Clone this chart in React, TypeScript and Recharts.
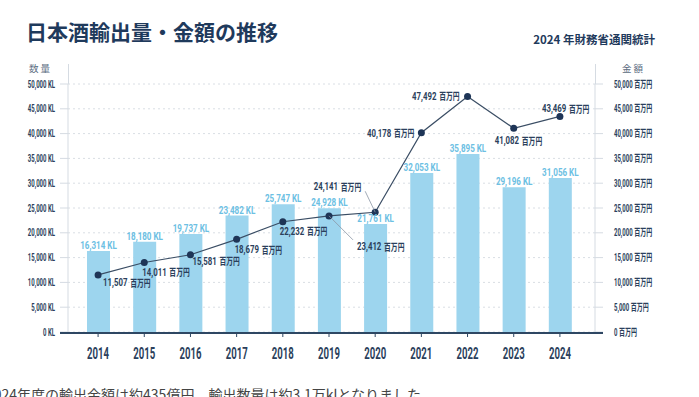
import React from "react";
import { ComposedChart, Bar, Line, XAxis, YAxis, CartesianGrid, LabelList } from "recharts";

const years = ["2014", "2015", "2016", "2017", "2018", "2019", "2020", "2021", "2022", "2023", "2024"];
const volumeKL = [16314, 18180, 19737, 23482, 25747, 24928, 21761, 32053, 35895, 29196, 31056];
const amountMillionYen = [11507, 14011, 15581, 18679, 22232, 23412, 24141, 40178, 47492, 41082, 43469];
const axisTicks = [0, 5000, 10000, 15000, 20000, 25000, 30000, 35000, 40000, 45000, 50000];

// where each amount label sits relative to its point
const amountLabelPos = [
  { dx: 5, dy: 7, anchor: "start" },
  { dx: -2, dy: 9, anchor: "start" },
  { dx: 2, dy: 6, anchor: "start" },
  { dx: -2, dy: 10, anchor: "start" },
  { dx: -3, dy: 9, anchor: "start" },
  { dx: 28, dy: 30, anchor: "start", leader: true },
  { dx: -14, dy: -26, anchor: "end", leader: true },
  { dx: -7, dy: 0, anchor: "end" },
  { dx: -8, dy: -1, anchor: "end" },
  { dx: -19, dy: 12, anchor: "start" },
  { dx: -18, dy: -8, anchor: "start" },
];

const data = years.map((year, i) => ({ year, volume: volumeKL[i], amount: amountMillionYen[i] }));

const NAVY = "#1f3a5c";
const TEXT = "#2b3f5c";
const COND = "Roboto, 'Noto Sans CJK JP', sans-serif";
const JP = "'Noto Sans CJK JP', 'Noto Sans', sans-serif";

const fmt = (v: number) => v.toLocaleString("en-US");

// squeezed text to mimic the condensed face of the original
const CondText = ({ x, y, anchor = "start", sx = 0.62, fontSize = 10, fill = TEXT, children }: any) => (
  <text
    transform={`translate(${x},${y}) scale(${sx},1)`}
    x={0}
    y={0}
    textAnchor={anchor}
    dominantBaseline="central"
    fontFamily={COND}
    fontWeight={700}
    fontSize={fontSize}
    fill={fill}
  >
    {children}
  </text>
);

const AmountLabel = (props: any) => {
  const { x, y, value, index } = props;
  const i = typeof index === "number" ? index : amountMillionYen.indexOf(value);
  const pos = amountLabelPos[i] || { dx: 5, dy: 8, anchor: "start" };
  const tx = x + pos.dx;
  const ty = y + pos.dy;
  return (
    <g>
      {pos.leader && (
        <line
          x1={x}
          y1={y}
          x2={pos.anchor === "end" ? tx + 4 : tx - 4}
          y2={pos.dy > 0 ? ty - 6 : ty + 5}
          stroke="#8a96a5"
          strokeWidth={0.8}
        />
      )}
      <CondText x={tx} y={ty} anchor={pos.anchor} sx={0.68} fontSize={11.5} fill={TEXT}>
        {fmt(value)}
        <tspan fontFamily={JP} fontSize={10} dx={4}>百万円</tspan>
      </CondText>
    </g>
  );
};

export default function App() {
  return (
    <div style={{ position: "absolute", left: 0, top: 0, width: 699, height: 397, background: "#fff", overflow: "hidden" }}>
      <div style={{ position: "absolute", left: 26, top: 16, fontFamily: JP, fontWeight: 700, fontSize: 21, color: NAVY, whiteSpace: "nowrap" }}>
        日本酒輸出量・金額の推移
      </div>
      <div style={{ position: "absolute", right: 44, top: 31, fontFamily: JP, fontWeight: 700, fontSize: 11.5, color: NAVY, whiteSpace: "nowrap" }}>
        2024 年財務省通関統計
      </div>
      <div style={{ position: "absolute", left: 29, top: 61, fontFamily: JP, fontSize: 9.5, color: "#5a6b80", letterSpacing: 2 }}>数量</div>
      <div style={{ position: "absolute", left: 622, top: 61, fontFamily: JP, fontSize: 9.5, color: "#5a6b80", letterSpacing: 2 }}>金額</div>

      {/* axis line extensions */}
      <div style={{ position: "absolute", left: 68, top: 64, width: 1, height: 20, background: "#d5dbe2" }} />
      <div style={{ position: "absolute", left: 595, top: 64, width: 1, height: 20, background: "#d5dbe2" }} />

      <div style={{ position: "absolute", left: 0, top: 0 }}>
        <ComposedChart width={699} height={397} data={data} margin={{ top: 84, right: 0, bottom: 35, left: 0 }}>
          <CartesianGrid yAxisId="kl" vertical={false} stroke="#d9dee4" strokeDasharray="2 3" />
          <XAxis
            dataKey="year"
            padding={{ left: 7, right: 12 }}
            axisLine={false}
            tickLine={{ stroke: "#2e4763" }}
            tickSize={5}
            tickMargin={7}
            height={30}
            tick={(p: any) => (
              <CondText x={p.x} y={p.y + 10} anchor="middle" sx={0.6} fontSize={16} fill={TEXT}>
                {p.payload.value}
              </CondText>
            )}
          />
          <YAxis
            yAxisId="kl"
            orientation="left"
            width={68}
            domain={[0, 50000]}
            ticks={axisTicks}
            interval={0}
            axisLine={{ stroke: "#d5dbe2" }}
            tickLine={{ stroke: "#d5dbe2" }}
            tickSize={8}
            tickMargin={5}
            tick={(p: any) => (
              <CondText x={p.x} y={p.y} anchor="end" sx={0.6} fontSize={10}>
                {`${fmt(p.payload.value)} KL`}
              </CondText>
            )}
          />
          <YAxis
            yAxisId="yen"
            orientation="right"
            width={104}
            domain={[0, 50000]}
            ticks={axisTicks}
            interval={0}
            axisLine={{ stroke: "#d5dbe2" }}
            tickLine={{ stroke: "#d5dbe2" }}
            tickSize={8}
            tickMargin={11}
            tick={(p: any) => (
              <CondText x={p.x} y={p.y} anchor="start" sx={0.6} fontSize={10}>
                {`${fmt(p.payload.value)} 百万円`}
              </CondText>
            )}
          />
          <Bar yAxisId="kl" dataKey="volume" fill="#9dd5ee" barSize={23} isAnimationActive={false}>
            <LabelList
              dataKey="volume"
              content={(p: any) => (
                <CondText x={p.x + p.width / 2} y={p.y - 6} anchor="middle" sx={0.7} fontSize={11.5} fill="#6cc0e3">
                  {`${fmt(Number(p.value))} KL`}
                </CondText>
              )}
            />
          </Bar>
          <Line
            yAxisId="yen"
            dataKey="amount"
            stroke="#3a4d64"
            strokeWidth={1.2}
            dot={{ r: 3.5, fill: "#1e3557", stroke: "#1e3557", strokeWidth: 0 }}
            activeDot={false}
            isAnimationActive={false}
            label={<AmountLabel />}
          />
        </ComposedChart>
      </div>

      {/* bottom axis, a bit wider than the plot */}
      <div style={{ position: "absolute", left: 60, top: 332, width: 543, height: 2, background: "#2e4763" }} />

      <div style={{ position: "absolute", left: -14, top: 384, fontFamily: JP, fontSize: 14, color: "#444", whiteSpace: "nowrap" }}>
        2024年度の輸出金額は約435億円、輸出数量は約3.1万klとなりました。
      </div>
    </div>
  );
}
